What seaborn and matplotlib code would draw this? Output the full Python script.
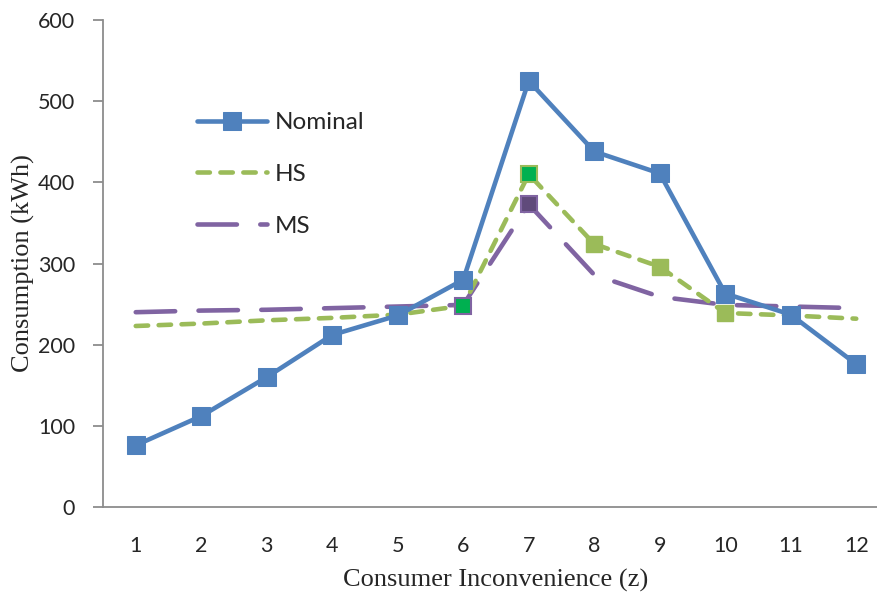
import matplotlib
matplotlib.use("Agg")
import matplotlib.pyplot as plt
import seaborn as sns
import pandas as pd
import numpy as np

z = [1, 2, 3, 4, 5, 6, 7, 8, 9, 10, 11, 12]
nominal = [76, 112, 160, 212, 236, 280, 525, 438, 411, 263, 237, 176]
hs = [223, 226, 230, 233, 237, 248, 410, 324, 296, 239, 236, 232]
ms = [240, 242, 243, 245, 247, 249, 373, 286, 259, 249, 247, 245]
yticks = [0, 100, 200, 300, 400, 500, 600]

C_NOM = "#4F81BD"
C_HS = "#9BBB59"
C_MS = "#8064A2"

sns.set_theme(style="white")
plt.rcParams["font.family"] = ["Lato", "DejaVu Sans"]

fig = plt.figure(figsize=(8.78, 5.97), dpi=100)
ax = fig.add_axes([103/878, 1-507/597, (889-103)/878, (507-20)/597])

df = pd.DataFrame({"z": z, "Nominal": nominal, "HS": hs, "MS": ms})

lw = 3.3
sns.lineplot(data=df, x="z", y="MS", ax=ax, color=C_MS, lw=lw, label="MS", zorder=2)
l = ax.lines[-1]
l.set_dashes([8.6, 5.1])
l.set_dash_capstyle("round")

sns.lineplot(data=df, x="z", y="HS", ax=ax, color=C_HS, lw=lw, label="HS", zorder=3)
l = ax.lines[-1]
l.set_dashes([2.7, 2.3])
l.set_dash_capstyle("round")

sns.lineplot(data=df, x="z", y="Nominal", ax=ax, color=C_NOM, lw=lw, label="Nominal",
             marker="s", markersize=12.5, markeredgecolor=C_NOM, zorder=4)
ax.lines[-1].set_solid_capstyle("round")

ms_sz = 12
for i in [7, 8, 9]:
    ax.plot(z[i], hs[i], marker="s", markersize=ms_sz, color=C_HS, mec=C_HS, zorder=5)
ax.plot(z[5], hs[5], marker="s", markersize=ms_sz, color="#00B050", mec=C_MS, mew=1.5, zorder=6)
ax.plot(z[6], hs[6], marker="s", markersize=ms_sz, color="#00B050", mec=C_HS, mew=1.5, zorder=6)
ax.plot(z[6], ms[6], marker="s", markersize=ms_sz, color="#604A7B", mec=C_MS, mew=1.5, zorder=6)

ax.set_xlim(0.5, 12.5)
ax.set_ylim(0, 600)
ax.set_yticks(yticks)
ax.set_xticks(z)
ax.set_xticklabels([str(v) for v in z])

for s in ["top", "right"]:
    ax.spines[s].set_visible(False)
for s in ["left", "bottom"]:
    ax.spines[s].set_color("#8C8C8C")
    ax.spines[s].set_linewidth(1.3)

ax.tick_params(axis="y", which="both", left=True, length=7, width=1.3, color="#8C8C8C",
               labelsize=15.5, pad=13)
ax.tick_params(axis="x", bottom=False, labelsize=15.5, pad=15)

ax.set_xlabel("Consumer Inconvenience (z)", family="Liberation Serif", fontsize=19, labelpad=9)
ax.set_ylabel("Consumption (kWh)", family="Liberation Serif", fontsize=19, labelpad=2)

handles, labels = ax.get_legend_handles_labels()
order = [labels.index("Nominal"), labels.index("HS"), labels.index("MS")]
leg = ax.legend([handles[i] for i in order], [labels[i] for i in order],
                loc="upper left", bbox_to_anchor=(197/878, 1-112/597),
                bbox_transform=fig.transFigure, frameon=False, borderpad=0,
                borderaxespad=0, fontsize=17.5, handlelength=2.9,
                labelspacing=1.27, handletextpad=0.3)

fig.savefig("out.png", dpi=100)
